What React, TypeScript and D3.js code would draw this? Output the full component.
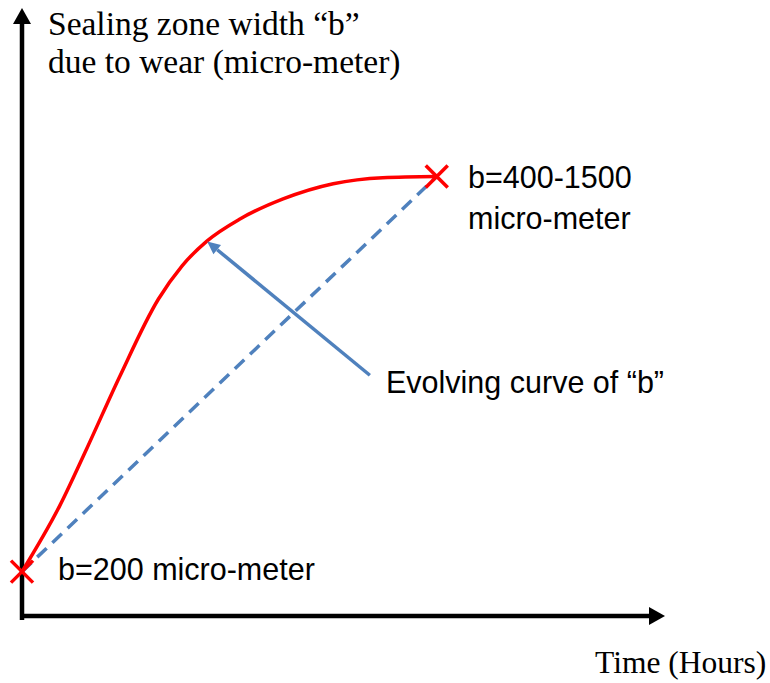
import React, { useEffect, useRef } from 'react'
import * as d3 from 'd3'

// Schematic chart: both axes are in arbitrary units 0..100 (no ticks)
const curveTime = [0, 5.9, 10.1, 15.2, 21.2, 24.9, 28.8, 33.9, 40.6, 48.4, 56.1, 64.5]
const curveB = [7.3, 18.2, 27.6, 39.4, 52.1, 57.6, 61.7, 65.3, 68.6, 71.1, 72.1, 72.3]
const endTime = [0, 64.5]
const endB = [7.3, 72.3]
const arrowTime = [54.1, 28.8]
const arrowB = [39.6, 61.6]

const yTitle = ['Sealing zone width \u201cb\u201d', 'due to wear (micro-meter)']
const xTitle = 'Time (Hours)'
const startLabel = 'b=200 micro-meter'
const endLabel = ['b=400-1500', 'micro-meter']
const curveLabel = 'Evolving curve of \u201cb\u201d'

const SERIF = '"Liberation Serif", "Times New Roman", serif'
const SANS = '"Liberation Sans", Arial, sans-serif'

const App: React.FC = () => {
  const svgRef = useRef<SVGSVGElement>(null)

  useEffect(() => {
    if (!svgRef.current) return
    const svg = d3.select(svgRef.current)
    svg.selectAll('*').remove()

    const x = d3.scaleLinear().domain([0, 100]).range([22, 665])
    const y = d3.scaleLinear().domain([0, 100]).range([616, 8])

    const g = svg.append('g')

    // axes with arrow heads
    g.append('line')
      .attr('x1', x(0) - 2).attr('x2', x(100) - 14)
      .attr('y1', y(0)).attr('y2', y(0))
      .attr('stroke', '#000').attr('stroke-width', 4.5)
    g.append('path')
      .attr('d', `M${x(100) - 16},${y(0) - 9} L${x(100)},${y(0)} L${x(100) - 16},${y(0) + 9} Z`)
      .attr('fill', '#000')
    g.append('line')
      .attr('x1', x(0)).attr('x2', x(0))
      .attr('y1', y(0) + 4).attr('y2', y(100) + 14)
      .attr('stroke', '#000').attr('stroke-width', 4.5)
    g.append('path')
      .attr('d', `M${x(0) - 9},${y(100) + 16} L${x(0)},${y(100)} L${x(0) + 9},${y(100) + 16} Z`)
      .attr('fill', '#000')

    // dashed straight reference
    g.append('line')
      .attr('x1', x(endTime[0])).attr('y1', y(endB[0]))
      .attr('x2', x(endTime[1])).attr('y2', y(endB[1]))
      .attr('stroke', '#4f81bd').attr('stroke-width', 3.5)
      .attr('stroke-dasharray', '13,8')

    // evolving curve
    const pts = curveTime.map((t, i) => [t, curveB[i]] as [number, number])
    const line = d3.line<[number, number]>()
      .x(d => x(d[0]))
      .y(d => y(d[1]))
      .curve(d3.curveMonotoneX)
    g.append('path')
      .datum(pts)
      .attr('d', line)
      .attr('fill', 'none')
      .attr('stroke', '#ff0000')
      .attr('stroke-width', 3.5)

    // x markers at both ends
    endTime.forEach((t, i) => {
      const cx = x(t), cy = y(endB[i]), s = 11
      g.append('path')
        .attr('d', `M${cx - s},${cy - s} L${cx + s},${cy + s} M${cx - s},${cy + s} L${cx + s},${cy - s}`)
        .attr('stroke', '#ff0000').attr('stroke-width', 3.5).attr('fill', 'none')
    })

    // pointer arrow
    const x1 = x(arrowTime[0]), y1 = y(arrowB[0])
    const x2 = x(arrowTime[1]), y2 = y(arrowB[1])
    const ang = Math.atan2(y2 - y1, x2 - x1)
    const hl = 13, hw = 6
    const bx = x2 - hl * Math.cos(ang), by = y2 - hl * Math.sin(ang)
    g.append('line')
      .attr('x1', x1).attr('y1', y1).attr('x2', bx).attr('y2', by)
      .attr('stroke', '#4f81bd').attr('stroke-width', 3.5)
    g.append('path')
      .attr('d', `M${x2},${y2} L${bx + hw * Math.sin(ang)},${by - hw * Math.cos(ang)} L${bx - hw * Math.sin(ang)},${by + hw * Math.cos(ang)} Z`)
      .attr('fill', '#4f81bd')

    // serif titles
    yTitle.forEach((t, i) => {
      g.append('text')
        .attr('x', 48).attr('y', 35 + i * 38)
        .style('font-family', SERIF).style('font-size', '33.5px')
        .attr('fill', '#000')
        .text(t)
    })
    g.append('text')
      .attr('x', 595).attr('y', 673)
      .style('font-family', SERIF).style('font-size', '31.5px')
      .attr('fill', '#000')
      .text(xTitle)

    // sans labels
    g.append('text')
      .attr('x', 58).attr('y', 580)
      .style('font-family', SANS).style('font-size', '30.5px')
      .attr('fill', '#000')
      .text(startLabel)
    endLabel.forEach((t, i) => {
      g.append('text')
        .attr('x', 468).attr('y', 188 + i * 41)
        .style('font-family', SANS).style('font-size', '30.5px')
        .attr('fill', '#000')
        .text(t)
    })
    g.append('text')
      .attr('x', 386).attr('y', 393)
      .style('font-family', SANS).style('font-size', '30.5px')
      .attr('fill', '#000')
      .text(curveLabel)
  }, [])

  return (
    <svg
      ref={svgRef}
      width={770}
      height={683}
      style={{ position: 'absolute', left: 0, top: 0, background: '#fff' }}
    />
  )
}

export default App
